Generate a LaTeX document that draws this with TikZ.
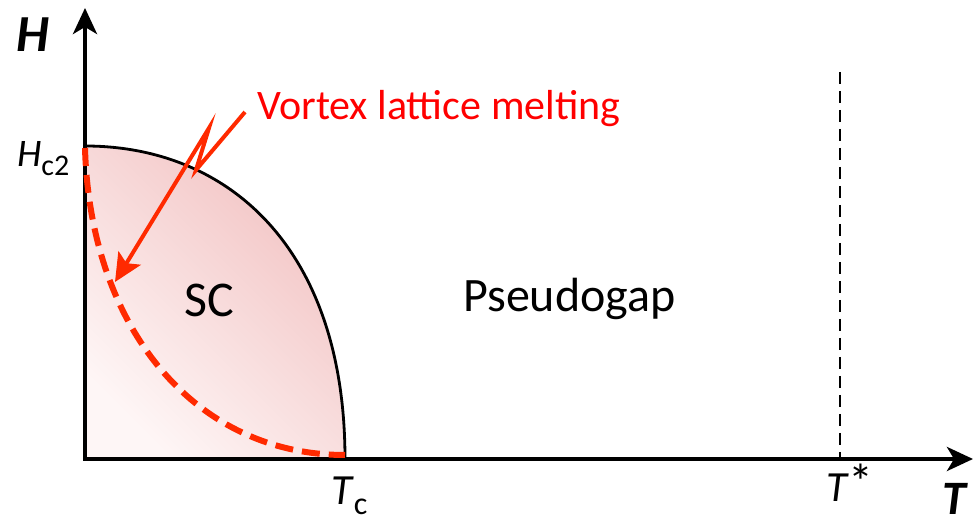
\documentclass[tikz,border=0pt]{standalone}
\usepackage{fontspec}
\setmainfont{Carlito}
\usetikzlibrary{arrows.meta}
\definecolor{redline}{HTML}{FF2A00}
\definecolor{redtext}{HTML}{FF0000}
\definecolor{pinkhi}{HTML}{F2C2C2}
\definecolor{pinklo}{HTML}{FEF6F6}
\tikzset{
  axisline/.style={line width=4pt,-{Stealth[length=26pt,width=24pt,inset=7pt]}},
  scline/.style={line width=2.8pt},
  meltline/.style={line width=6pt,redline,dash pattern=on 18pt off 9pt},
  tstarline/.style={line width=2.4pt,dash pattern=on 12pt off 7pt},
  redarrow/.style={line width=4pt,redline,line join=miter,-{Stealth[length=28pt,width=26pt,inset=6pt]}},
  lbl/.style={inner sep=0pt,anchor=base west},
}
\begin{document}
\begin{tikzpicture}[x=1pt,y=1pt]
\useasboundingbox (0,0) rectangle (978,524);
% coordinates
\coordinate (O) at (85,65);
\coordinate (Otop) at (85,516);
\coordinate (Obot) at (85,63);
\coordinate (Oleft) at (83,65);
\coordinate (Tend) at (973,65);
\coordinate (Hc) at (85,378);
\coordinate (Tc) at (345,65);
\coordinate (M1) at (85,376);
\coordinate (M2) at (345,69);
\coordinate (S1) at (840,452);
\coordinate (S2) at (840,65);
\coordinate (A0) at (245,412);
\coordinate (A1) at (196,354);
\coordinate (A2) at (209,396);
\coordinate (A3) at (115,242);
% SC region
\shade[left color=pinkhi,right color=pinklo,shading angle=-45]
  (O) -- (Hc) .. controls (230,378) and (345,274) .. (Tc) -- cycle;
\draw[scline] (Hc) .. controls (230,378) and (345,274) .. (Tc);
% T* line
\draw[tstarline] (S1) -- (S2);
% axes
\draw[axisline] (Oleft) -- (Tend);
\draw[axisline] (Obot) -- (Otop);
% melting line
\draw[meltline] (M1) .. controls (90,196) and (195,69) .. (M2);
% arrow
\draw[redarrow] (A0) -- (A1) -- (A2) -- (A3);
% labels
\node[lbl,text=redtext,font=\fontsize{42}{48}\selectfont] (vortex) at (257,404) {Vortex lattice melting};
\node[inner sep=0pt,anchor=base,font=\fontsize{50}{56}\selectfont] (sc) at (209,207) {SC};
\node[lbl,font=\fontsize{48}{54}\selectfont] (pg) at (463,212) {Pseudogap};
\node[lbl,font=\fontsize{52}{58}\selectfont\bfseries\itshape] (hlab) at (16,472) {H};
\node[lbl,font=\fontsize{48}{54}\selectfont\bfseries\itshape] (tlab) at (942,9) {T};
\node[lbl,font=\fontsize{39}{44}\selectfont] (hc2) at (17,357) {\textit{H}\raisebox{-9pt}{\fontsize{30}{34}\selectfont c2}};
\node[lbl,font=\fontsize{43}{48}\selectfont] (tc) at (331,19) {\textit{T}\raisebox{-10pt}{\fontsize{32}{36}\selectfont c}};
\node[lbl,font=\fontsize{43}{48}\selectfont] (tstar) at (826,22) {\textit{T}\raisebox{2pt}{\fontsize{50}{54}\selectfont *}};
\end{tikzpicture}
\end{document}
